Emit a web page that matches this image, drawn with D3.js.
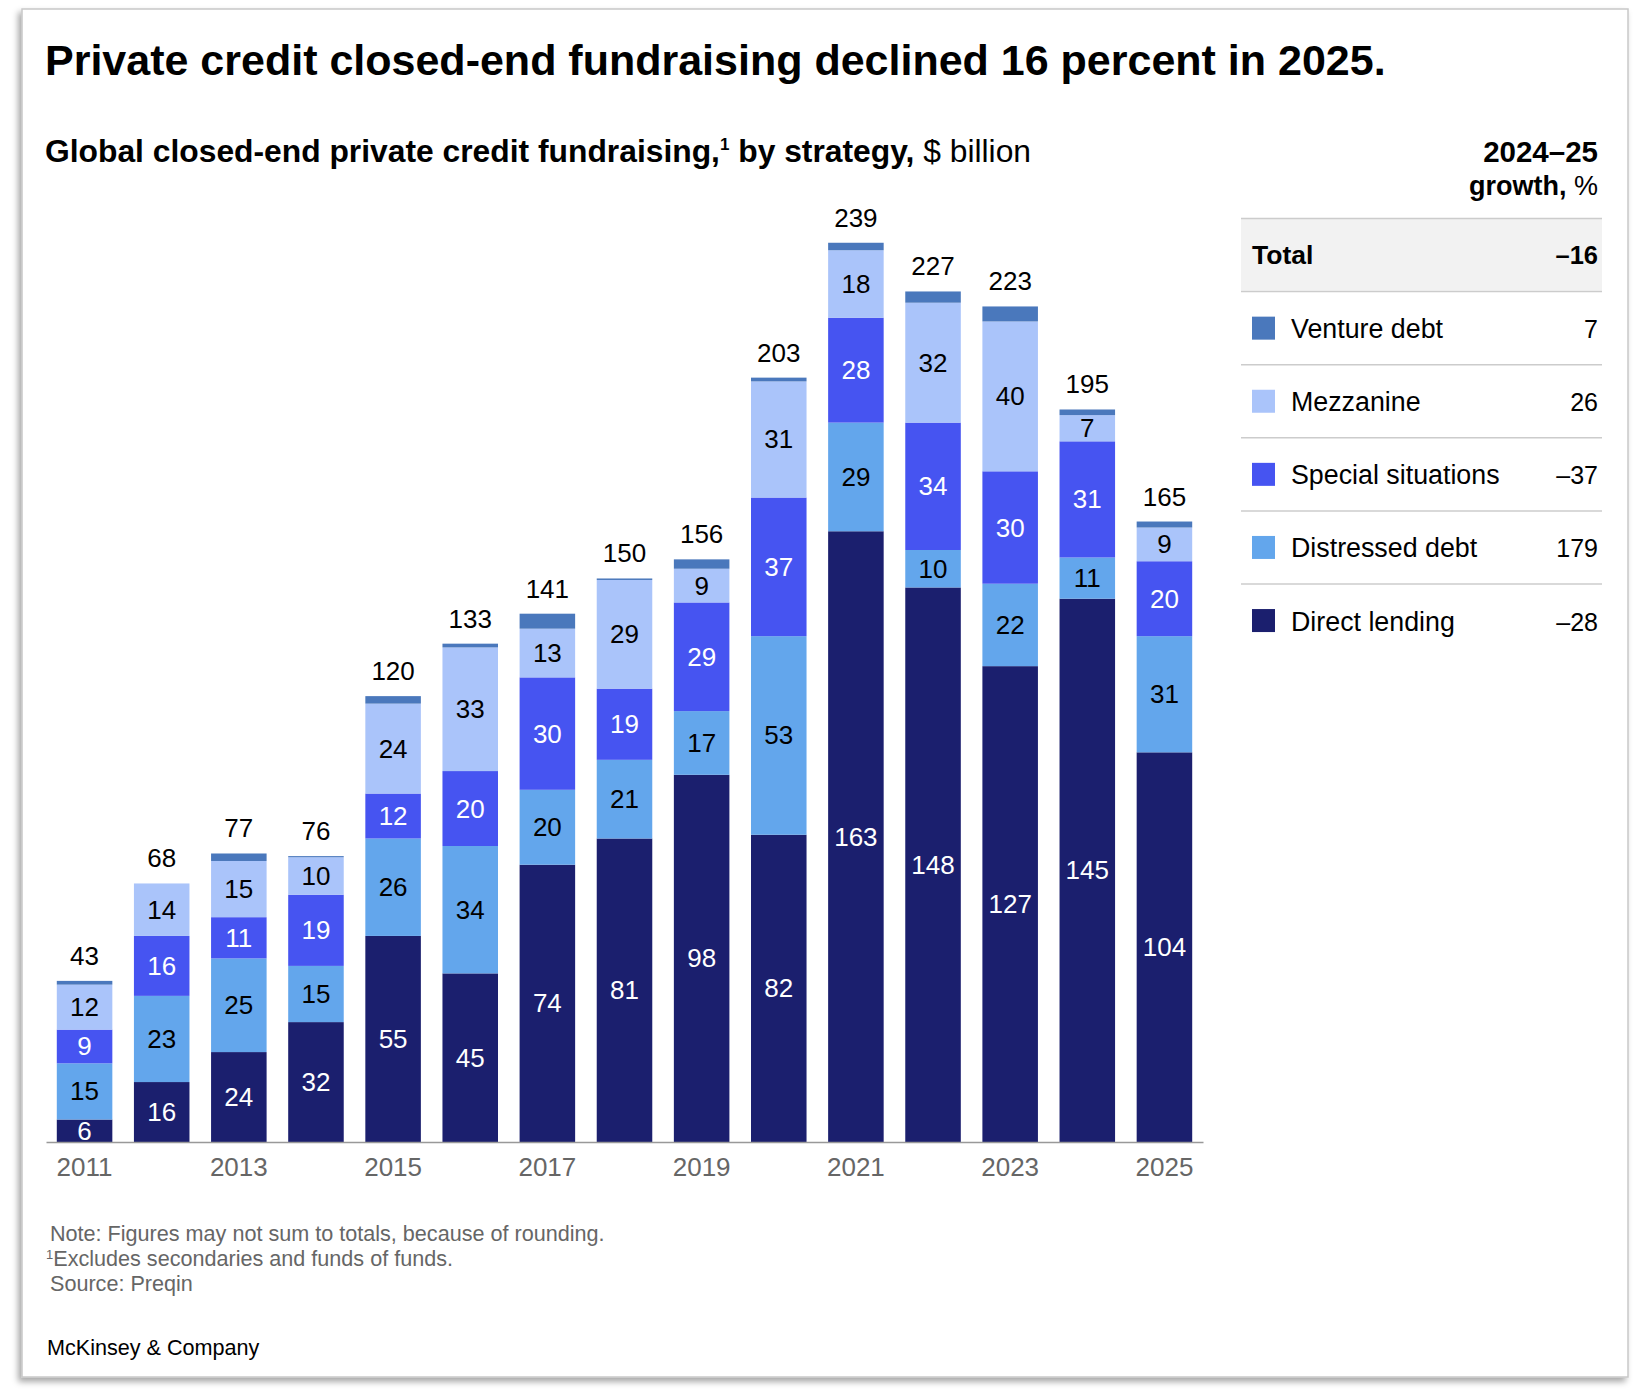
<!DOCTYPE html>
<html>
<head>
<meta charset="utf-8">
<script src="https://cdn.jsdelivr.net/npm/d3@7"></script>
<style>
  html, body { margin: 0; padding: 0; background: #fff; }
  svg { display: block; font-family: "Liberation Sans", Arial, sans-serif; }
</style>
</head>
<body>
<svg id="chart" width="1638" height="1399"></svg>
<script>
// ---- Data ----
const years = [2011, 2012, 2013, 2014, 2015, 2016, 2017, 2018, 2019, 2020, 2021, 2022, 2023, 2024, 2025];
const yearTickLabels = ["2011", "2013", "2015", "2017", "2019", "2021", "2023", "2025"];
const directLending     = [6, 16, 24, 32, 55, 45, 74, 81, 98, 82, 163, 148, 127, 145, 104];
const distressedDebt    = [15, 23, 25, 15, 26, 34, 20, 21, 17, 53, 29, 10, 22, 11, 31];
const specialSituations = [9, 16, 11, 19, 12, 20, 30, 19, 29, 37, 28, 34, 30, 31, 20];
const mezzanine         = [12, 14, 15, 10, 24, 33, 13, 29, 9, 31, 18, 32, 40, 7, 9];
const ventureDebt       = [1, 0, 2, 0.3, 2, 1, 4, 0.4, 2.5, 1, 2, 3, 4, 1.5, 1.6];
const totals            = [43, 68, 77, 76, 120, 133, 141, 150, 156, 203, 239, 227, 223, 195, 165];

const seriesNames  = ["Direct lending", "Distressed debt", "Special situations", "Mezzanine", "Venture debt"];
const seriesKeys   = ["direct", "distressed", "special", "mezz", "venture"];
const seriesColors = ["#1b1f6e", "#63a6ec", "#4654f1", "#aac4fa", "#4a78bc"];
const labelColors  = ["#ffffff", "#000000", "#ffffff", "#000000", null];

const legendOrder  = ["Venture debt", "Mezzanine", "Special situations", "Distressed debt", "Direct lending"];
const growthTotal  = "\u201316";
const growthValues = ["7", "26", "\u201337", "179", "\u201328"];

// ---- Table for stack ----
const rows = years.map((y, i) => ({
  year: y,
  direct: directLending[i],
  distressed: distressedDebt[i],
  special: specialSituations[i],
  mezz: mezzanine[i],
  venture: ventureDebt[i],
  total: totals[i]
}));
const seriesValues = {direct: directLending, distressed: distressedDebt, special: specialSituations, mezz: mezzanine, venture: ventureDebt};

const svg = d3.select("#chart");

// frame with shadow
const defs = svg.append("defs");
const f = defs.append("filter").attr("id", "shadow").attr("x", "-5%").attr("y", "-5%").attr("width", "110%").attr("height", "110%");
f.append("feDropShadow").attr("dx", -3).attr("dy", 4).attr("stdDeviation", 3).attr("flood-color", "#000").attr("flood-opacity", 0.35);
svg.append("rect").attr("x", 22).attr("y", 9).attr("width", 1606).attr("height", 1368)
  .attr("fill", "#fff").attr("stroke", "#c8c8c8").attr("stroke-width", 1.5).attr("filter", "url(#shadow)");

// title
svg.append("text").attr("x", 45).attr("y", 75)
  .attr("font-size", 43).attr("font-weight", "bold").attr("fill", "#000")
  .text("Private credit closed-end fundraising declined 16 percent in 2025.");

// subtitle
const sub = svg.append("text").attr("x", 45).attr("y", 162).attr("font-size", 31.8).attr("fill", "#000");
sub.append("tspan").attr("font-weight", "bold").text("Global closed-end private credit fundraising,");
sub.append("tspan").attr("font-weight", "bold").attr("font-size", 17).attr("dy", -12).text("1");
sub.append("tspan").attr("font-weight", "bold").attr("dy", 12).text(" by strategy,");
sub.append("tspan").text(" $ billion");

// ---- Scales ----
const x = d3.scaleBand().domain(years).range([46, 1203]).paddingInner(0.28).paddingOuter(0.14);
const y = d3.scaleLinear().domain([0, 239]).range([1142, 246.5]);

const stack = d3.stack().keys(seriesKeys);
const stacked = stack(rows);

const g = svg.append("g");
stacked.forEach((layer, li) => {
  const lg = g.append("g");
  lg.selectAll("rect").data(layer).join("rect")
    .attr("x", d => x(d.data.year))
    .attr("y", d => y(d[1]))
    .attr("width", x.bandwidth())
    .attr("height", d => Math.max(0, y(d[0]) - y(d[1])))
    .attr("fill", seriesColors[li]);
  if (labelColors[li]) {
    lg.selectAll("text").data(layer).join("text")
      .attr("x", d => x(d.data.year) + x.bandwidth() / 2)
      .attr("y", d => (y(d[0]) + y(d[1])) / 2)
      .attr("text-anchor", "middle")
      .attr("dominant-baseline", "central")
      .attr("font-size", 26)
      .attr("fill", labelColors[li])
      .text(d => seriesValues[seriesKeys[li]][years.indexOf(d.data.year)]);
  }
});

// totals
const topLayer = stacked[stacked.length - 1];
g.append("g").selectAll("text").data(topLayer).join("text")
  .attr("x", d => x(d.data.year) + x.bandwidth() / 2)
  .attr("y", d => y(d[1]) - 16)
  .attr("text-anchor", "middle")
  .attr("font-size", 26)
  .attr("fill", "#000")
  .text(d => d.data.total);

// x axis
const xAxis = d3.axisBottom(x)
  .tickValues(years.filter(yr => yearTickLabels.includes(String(yr))))
  .tickSize(0).tickPadding(16)
  .tickFormat(d => String(d));
const ax = svg.append("g").attr("transform", `translate(0,${y(0)})`).call(xAxis);
ax.select(".domain").attr("stroke", "#999").attr("stroke-width", 1.5);
ax.selectAll("text").attr("font-size", 26).attr("fill", "#666").attr("font-family", "Liberation Sans, Arial, sans-serif").attr("dy", "0.71em");

// ---- Legend / growth table ----
const tx0 = 1241, tx1 = 1602;
svg.append("text").attr("x", 1598).attr("y", 162).attr("text-anchor", "end").attr("font-size", 29.5).attr("font-weight", "bold").attr("fill", "#000").text("2024\u201325");
const hdr2 = svg.append("text").attr("x", 1598).attr("y", 195).attr("text-anchor", "end").attr("font-size", 27).attr("fill", "#000");
hdr2.append("tspan").attr("font-weight", "bold").text("growth,");
hdr2.append("tspan").text(" %");

const rowTop = 218.5, rowH = 73.1;
svg.append("rect").attr("x", tx0).attr("y", rowTop).attr("width", tx1 - tx0).attr("height", rowH - 1).attr("fill", "#f2f2f2");
for (let i = 0; i <= 5; i++) {
  svg.append("line").attr("x1", tx0).attr("x2", tx1)
    .attr("y1", rowTop + i * rowH).attr("y2", rowTop + i * rowH)
    .attr("stroke", "#cccccc").attr("stroke-width", 1.5);
}
svg.append("text").attr("x", 1252).attr("y", rowTop + rowH / 2).attr("dominant-baseline", "central")
  .attr("font-size", 26.5).attr("font-weight", "bold").attr("fill", "#000").text("Total");
svg.append("text").attr("x", 1598).attr("y", rowTop + rowH / 2).attr("dominant-baseline", "central")
  .attr("text-anchor", "end").attr("font-size", 25.5).attr("font-weight", "bold").attr("fill", "#000").text(growthTotal);

legendOrder.forEach((name, i) => {
  const cy = rowTop + (i + 1) * rowH + rowH / 2;
  const si = seriesNames.indexOf(name);
  svg.append("rect").attr("x", 1252).attr("y", cy - 11.5).attr("width", 23).attr("height", 23).attr("fill", seriesColors[si]);
  svg.append("text").attr("x", 1291).attr("y", cy + 1).attr("dominant-baseline", "central")
    .attr("font-size", 26.8).attr("fill", "#000").text(name);
  svg.append("text").attr("x", 1598).attr("y", cy + 1).attr("dominant-baseline", "central")
    .attr("text-anchor", "end").attr("font-size", 25).attr("fill", "#000").text(growthValues[i]);
});

// ---- Footnotes ----
const notes = svg.append("g").attr("font-size", 21.6).attr("fill", "#666");
notes.append("text").attr("x", 50).attr("y", 1241).text("Note: Figures may not sum to totals, because of rounding.");
const n2 = notes.append("text").attr("x", 46).attr("y", 1266);
n2.append("tspan").attr("font-size", 13).attr("dy", -7).text("1");
n2.append("tspan").attr("dy", 7).text("Excludes secondaries and funds of funds.");
notes.append("text").attr("x", 50).attr("y", 1291).text("Source: Preqin");

svg.append("text").attr("x", 47).attr("y", 1355).attr("font-size", 21.6).attr("fill", "#000").text("McKinsey & Company");
</script>
</body>
</html>
